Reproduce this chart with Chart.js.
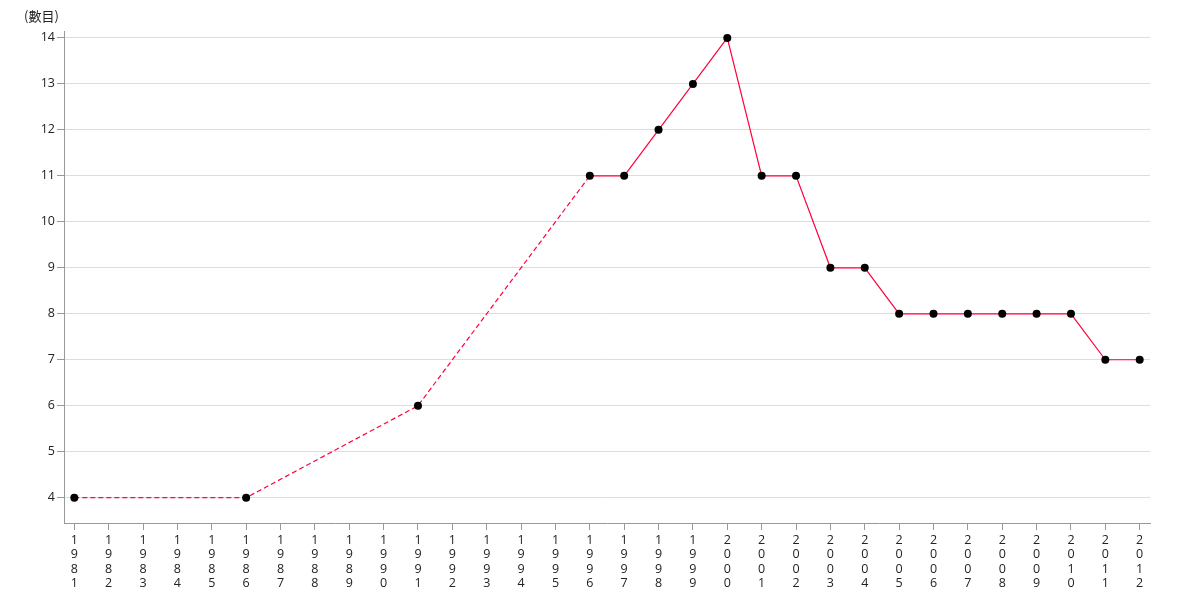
<!DOCTYPE html>
<html><head><meta charset="utf-8">
<script src="https://cdn.jsdelivr.net/npm/chart.js@4"></script>
<style>html,body{margin:0;padding:0;background:#fff}#wrap{width:1180px;height:600px;position:relative}</style>
</head><body><div id="wrap"><canvas id="c" width="1180" height="600"></canvas></div>
<script>
const years = [1981,1986,1991,1996,1997,1998,1999,2000,2001,2002,2003,2004,2005,2006,2007,2008,2009,2010,2011,2012];
const values = [4,4,6,11,11,12,13,14,11,11,9,9,8,8,8,8,8,8,7,7];
const tickYears = [];
for (let y = 1981; y <= 2012; y++) tickYears.push(y);
const yTicks = [4,5,6,7,8,9,10,11,12,13,14];
const unitLabel = '(數目)';

const FONT = '"Open Sans","Noto Sans","Noto Sans CJK TC",sans-serif';

const titlePlugin = {
  id: 'unitTitle',
  afterDraw(chart) {
    const ctx = chart.ctx;
    ctx.save();
    ctx.font = '13px "Noto Sans CJK TC","Open Sans",sans-serif';
    ctx.fillStyle = '#222';
    ctx.textBaseline = 'middle';
    ctx.fillText(unitLabel, 24, 16);
    ctx.restore();
  }
};

new Chart(document.getElementById('c'), {
  type: 'line',
  data: {
    datasets: [{
      data: years.map((y, i) => ({x: y, y: values[i]})),
      borderColor: '#ff003c',
      borderWidth: 1.2,
      pointRadius: 4,
      pointBackgroundColor: '#000',
      pointBorderColor: '#000',
      pointBorderWidth: 0,
      tension: 0,
      segment: {
        borderDash: ctx => (ctx.p1.parsed.x - ctx.p0.parsed.x > 1 ? [5, 3] : undefined)
      }
    }]
  },
  options: {
    responsive: false,
    animation: false,
    layout: {padding: {left: 0, right: 30, top: 31, bottom: 6}},
    plugins: {legend: {display: false}, tooltip: {enabled: false}},
    scales: {
      x: {
        type: 'linear',
        min: 1980.7,
        max: 2012.3,
        afterBuildTicks: s => { s.ticks = tickYears.map(v => ({value: v})); },
        grid: {drawOnChartArea: false, drawTicks: true, tickLength: 7, color: '#999'},
        border: {color: '#999'},
        ticks: {
          autoSkip: false,
          maxRotation: 0,
          padding: 3,
          color: '#222',
          font: {family: FONT, size: 12.5, lineHeight: 1.16},
          callback: v => String(v).split('')
        }
      },
      y: {
        min: 3.45,
        max: 14.15,
        afterBuildTicks: s => { s.ticks = yTicks.map(v => ({value: v})); },
        afterFit: s => { s.width = 64; },
        grid: {color: '#dddddd', tickLength: 7, tickColor: '#999'},
        border: {color: '#999'},
        ticks: {
          padding: 2,
          color: '#222',
          font: {family: FONT, size: 12.5}
        }
      }
    }
  },
  plugins: [titlePlugin]
});
</script></body></html>
